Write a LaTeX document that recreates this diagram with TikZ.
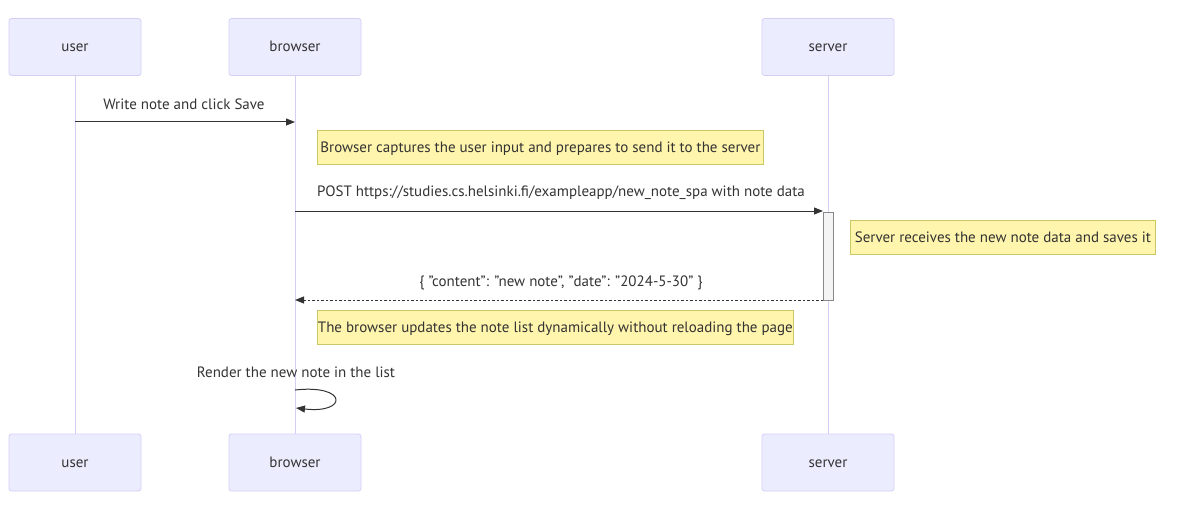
\documentclass[tikz,border=0pt]{standalone}
\usepackage{fontspec}
\setmainfont{PT Sans}
\usetikzlibrary{arrows.meta}
\definecolor{actorfill}{HTML}{ECECFF}
\definecolor{actorline}{HTML}{D4CFF5}
\definecolor{lifeline}{HTML}{D4CFF5}
\definecolor{notefill}{HTML}{FFF5AD}
\definecolor{noteline}{HTML}{C8C864}
\definecolor{ink}{HTML}{333333}
\definecolor{actfill}{HTML}{F4F4F4}
\definecolor{actline}{HTML}{888888}
\tikzset{
  actor/.style={draw=actorline, fill=actorfill, rounded corners=2.5pt, line width=0.8pt,
    minimum width=132pt, minimum height=57pt, inner sep=0pt, text=ink,
    text height=12pt, text depth=2pt, font=\fontsize{15}{17}\selectfont},
  note/.style={draw=noteline, fill=notefill, line width=0.8pt, inner sep=0pt, anchor=north west,
    minimum height=34pt, text=ink, text height=12pt, text depth=2pt,
    font=\fontsize{15}{17}\selectfont},
  life/.style={draw=lifeline, line width=1pt},
  msg/.style={draw=ink, line width=1pt, -{Triangle[length=9pt,width=7pt]}},
  reply/.style={msg, dash pattern=on 2.5pt off 2pt},
  lbl/.style={text=ink, font=\fontsize{15}{17}\selectfont, inner sep=0pt, yshift=-2pt},
  activation/.style={draw=actline, fill=actfill, line width=0.8pt},
}
\begin{document}
\begin{tikzpicture}[x=1pt, y=-1pt]
\useasboundingbox (0,0) rectangle (1186,532);

% participants, top and bottom
\node[actor] (userT)    at (75,47)   {user};
\node[actor] (browserT) at (295,47)  {browser};
\node[actor] (serverT)  at (828,47)  {server};
\node[actor] (userB)    at (75,462.5)  {user};
\node[actor] (browserB) at (295,462.5) {browser};
\node[actor] (serverB)  at (828,462.5) {server};

% lifelines
\draw[life] (userT.south) -- (userB.north);
\draw[life] (browserT.south) -- (browserB.north);
\draw[life] (serverT.south) -- (serverB.north);

% activation bar on the server
\draw[activation] (823,212) rectangle (833,300);

% anchor points on the lifelines
\coordinate (u1) at (75,122);
\coordinate (b1) at (295,122);
\coordinate (b2) at (295,211);
\coordinate (s2) at (823,211);
\coordinate (s3) at (823,300);
\coordinate (b3) at (295,300);
\coordinate (b4a) at (295,390);
\coordinate (b4b) at (296,408);

% user -> browser
\node[lbl] (m1) at (184,102) {Write note and click Save};
\draw[msg] (u1) -- (b1);

\node[note, minimum width=446pt] (n1) at (317,130) {Browser captures the user input and prepares to send it to the server};

% browser -> server
\node[lbl] (m2) at (561,191) {POST https://studies.cs.helsinki.fi/exampleapp/new\_note\_spa with note data};
\draw[msg] (b2) -- (s2);

\node[note, minimum width=305pt] (n2) at (850,220) {Server receives the new note data and saves it};

% server -> browser (response)
\node[lbl] (m3) at (561,281) {\{ "content": "new note", "date": "2024-5-30" \}};
\draw[reply] (s3) -- (b3);

\node[note, minimum width=476pt] (n3) at (317,310) {The browser updates the note list dynamically without reloading the page};

% browser -> browser
\node[lbl] (m4) at (296,370) {Render the new note in the list};
\draw[msg] (b4a) .. controls (348,384) and (348,414) .. (b4b);
\end{tikzpicture}
\end{document}
